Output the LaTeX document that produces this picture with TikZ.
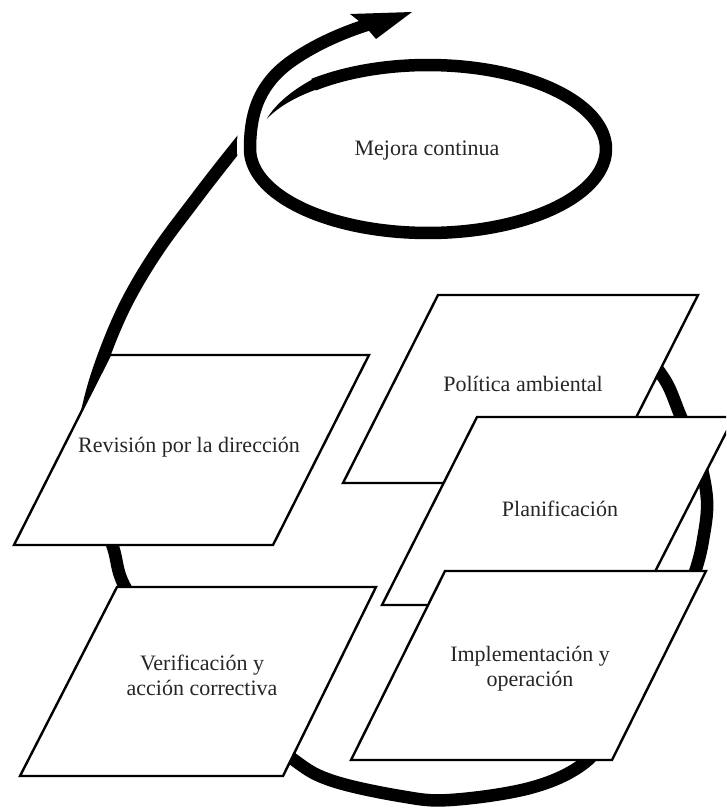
\documentclass[tikz,border=0pt]{standalone}
\usepackage{fontspec}
\setmainfont{Liberation Serif}
\begin{document}
\begin{tikzpicture}[x=1pt,y=-1pt,
  loopline/.style={line width=12.5pt, line cap=butt, line join=round},
  box/.style={draw=black, line width=2.4pt, fill=white, line join=miter},
  lbl/.style={font=\fontsize{22}{25}\selectfont, text=black!85, align=center, inner sep=0pt}]
\clip (0,0) rectangle (726,809);
\fill[white] (0,0) rectangle (726,809);

% big cycle
\draw[loopline] plot[smooth, tension=0.6] coordinates {(600,335) (640,352) (665,380) (681,417) (698,455) (707,500) (703,540) (695,572) (680,610) (648,670) (615,725) (583,764) (530,788) (450,800) (400,796) (330,780) (290,757) (220,700) (160,640) (124,585) (113,547) (96,500) (82,450) (90,400) (106,350) (128,300) (158,250) (195,200) (222,165) (250,130)};

% white gap where the cycle passes under the spiral
\draw[white, line width=26pt] plot[domain=520:540, samples=20] ({428+178*cos(\x)},{149+84*sin(\x)}) .. controls (250,115) and (258,88) .. (285,66);

% spiral: tapered start
\fill plot[domain=202:232, samples=24] ({428+(174+10*(\x-202)/30)*cos(\x)},{149+(80+10*(\x-202)/30)*sin(\x)}) -- plot[domain=232:202, samples=24] ({428+(174-2*(\x-202)/30)*cos(\x)},{149+(80-2*(\x-202)/30)*sin(\x)}) -- cycle;
% spiral body and exit
\draw[loopline] plot[domain=230:540, samples=140] ({428+178*cos(\x)},{149+84*sin(\x)}) .. controls (250,115) and (258,88) .. (285,66) .. controls (305,50) and (337,34) .. (370,24);
\coordinate (tip) at (412,12);
\fill (tip) -- (350,14) -- (364,25) -- (376,39) -- cycle;

\node[lbl] (mejora) at (427,151) {Mejora continua};

% boxes (back to front)
\draw[box] (110,355) -- (369,355) -- (273,545) -- (14,545) -- cycle;
\node[lbl] (revision) at (189,447) {Revisión por la dirección};

\draw[box] (117,587) -- (376,587) -- (283,776) -- (20,776) -- cycle;
\node[lbl] (verif) at (202,675) {Verificación y\\acción correctiva};

\draw[box] (438,295) -- (698,295) -- (603,483) -- (343,483) -- cycle;
\node[lbl] (politica) at (523,384) {Política ambiental};

\draw[box] (477,417) -- (734,417) -- (638,605) -- (382,605) -- cycle;
\node[lbl] (planif) at (560,509) {Planificación};

\draw[box] (445,571) -- (706,571) -- (612,760) -- (351,760) -- cycle;
\node[lbl] (impl) at (530,669) {Implementación y\\operación};
\end{tikzpicture}
\end{document}
